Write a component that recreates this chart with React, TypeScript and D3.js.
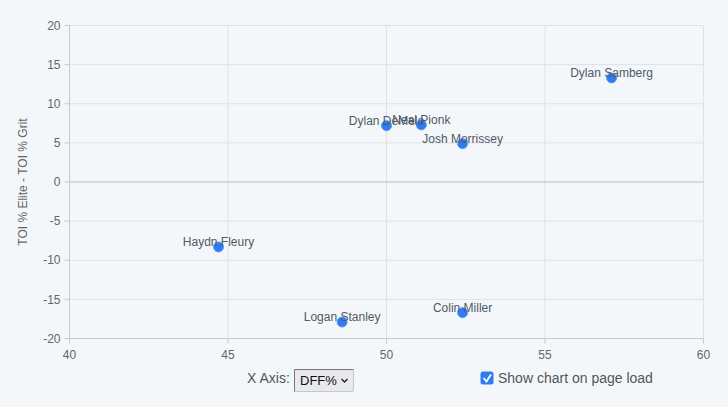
import { useRef, useEffect } from 'react'
import * as d3 from 'd3'

const players = ['Dylan Samberg', 'Neal Pionk', 'Dylan DeMelo', 'Josh Morrissey', 'Haydn Fleury', 'Logan Stanley', 'Colin Miller']
const dffPct = [57.1, 51.1, 50.0, 52.4, 44.7, 48.6, 52.4]
const toiDiff = [13.3, 7.3, 7.2, 4.9, -8.3, -17.9, -16.7]
const xTicks = [40, 45, 50, 55, 60]
const yTicks = [20, 15, 10, 5, 0, -5, -10, -15, -20]

const W = 728
const H = 407
const FONT = '"Liberation Sans", Arial, Helvetica, sans-serif'

export default function App() {
  const svgRef = useRef<SVGSVGElement>(null)

  useEffect(() => {
    document.body.style.margin = '0'
    if (!svgRef.current) return
    const svg = d3.select(svgRef.current)
    svg.selectAll('*').remove()

    svg.append('rect').attr('width', W).attr('height', H).attr('fill', '#f4f7fa')

    const x = d3.scaleLinear().domain([40, 60]).range([69.5, 703.5])
    const y = d3.scaleLinear().domain([-20, 20]).range([338.5, 25.5])

    const g = svg.append('g')

    // grid
    g.selectAll('.vgrid').data(xTicks.slice(1)).join('line')
      .attr('x1', d => x(d)).attr('x2', d => x(d))
      .attr('y1', y(20)).attr('y2', y(-20))
      .attr('stroke', '#dde2e8').attr('stroke-width', 1)
    g.selectAll('.hgrid').data(yTicks).join('line')
      .attr('x1', x(40)).attr('x2', x(60))
      .attr('y1', d => y(d)).attr('y2', d => y(d))
      .attr('stroke', d => d === 0 ? '#b5bcc4' : '#dde2e8').attr('stroke-width', 1)

    // axis lines
    g.append('line').attr('x1', x(40)).attr('x2', x(40)).attr('y1', y(20)).attr('y2', y(-20) + 5)
      .attr('stroke', '#c4cad1')
    g.append('line').attr('x1', x(40) - 5).attr('x2', x(60)).attr('y1', y(-20)).attr('y2', y(-20))
      .attr('stroke', '#c4cad1')

    // y ticks
    g.selectAll('.yt').data(yTicks).join('line')
      .attr('x1', x(40) - 5).attr('x2', x(40)).attr('y1', d => y(d)).attr('y2', d => y(d))
      .attr('stroke', '#c4cad1')
    g.selectAll('.yl').data(yTicks).join('text')
      .attr('x', x(40) - 9).attr('y', d => y(d)).attr('dy', '0.35em')
      .attr('text-anchor', 'end').attr('fill', '#666').attr('font-size', 12).attr('font-family', FONT)
      .text(d => d)

    // x ticks
    g.selectAll('.xt').data(xTicks).join('line')
      .attr('x1', d => x(d)).attr('x2', d => x(d)).attr('y1', y(-20)).attr('y2', y(-20) + 5)
      .attr('stroke', '#c4cad1')
    g.selectAll('.xl').data(xTicks).join('text')
      .attr('x', d => x(d)).attr('y', y(-20) + 20)
      .attr('text-anchor', 'middle').attr('fill', '#666').attr('font-size', 12).attr('font-family', FONT)
      .text(d => d)

    // y label
    g.append('text')
      .attr('transform', `translate(27, ${y(0)}) rotate(-90)`)
      .attr('text-anchor', 'middle').attr('fill', '#666').attr('font-size', 12).attr('font-family', FONT)
      .text('TOI % Elite - TOI % Grit')

    // points
    const idx = d3.range(players.length)
    g.selectAll('.pt').data(idx).join('circle')
      .attr('cx', i => x(dffPct[i])).attr('cy', i => y(toiDiff[i])).attr('r', 5)
      .attr('fill', '#2f7cf2').attr('stroke', '#5b98f3').attr('stroke-width', 1)

    g.selectAll('.lb').data(idx).join('text')
      .attr('x', i => x(dffPct[i])).attr('y', i => y(toiDiff[i]) - 1)
      .attr('text-anchor', 'middle').attr('fill', '#4f5a68').attr('font-size', 12).attr('font-family', FONT)
      .text(i => players[i])

    // controls
    const c = svg.append('g').attr('font-family', FONT)
    c.append('text').attr('x', 247).attr('y', 383).attr('fill', '#555').attr('font-size', 14).text('X Axis:')
    c.append('rect').attr('x', 294.5).attr('y', 369.5).attr('width', 59).attr('height', 22).attr('rx', 1.5)
      .attr('fill', '#e9e9ed').attr('stroke', '#c8c8cc')
    c.append('path').attr('d', 'M294.5,391.5 V369.5 H353.5').attr('fill', 'none').attr('stroke', '#767676')
    c.append('text').attr('x', 300).attr('y', 385).attr('fill', '#111').attr('font-size', 13).text('DFF%')
    c.append('path').attr('d', 'M341.5,379 L344.5,382 L347.5,379').attr('fill', 'none').attr('stroke', '#222').attr('stroke-width', 1.4)

    c.append('rect').attr('x', 480.5).attr('y', 371.5).attr('width', 13).attr('height', 13).attr('rx', 2.5)
      .attr('fill', '#2f7cf2')
    c.append('path').attr('d', 'M483.5,378 L486.5,381.5 L491,374.5').attr('fill', 'none').attr('stroke', '#fff').attr('stroke-width', 1.8)
    c.append('text').attr('x', 498).attr('y', 383).attr('fill', '#555').attr('font-size', 14).text('Show chart on page load')
  }, [])

  return <svg ref={svgRef} width={W} height={H} style={{ display: 'block' }} />
}
